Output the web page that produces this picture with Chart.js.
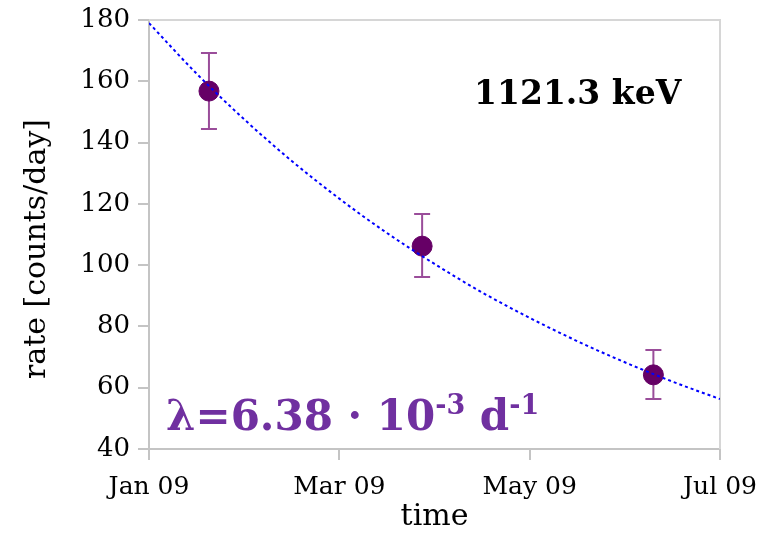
<!DOCTYPE html>
<html lang="en">
  <head>
    <meta charset="UTF-8" />
    <title>1121.3 keV decay</title>
    <script src="https://cdn.jsdelivr.net/npm/chart.js"></script>
    <style>
      html, body { margin: 0; padding: 0; background: #fff; }
      #wrap { width: 763px; height: 535px; }
    </style>
  </head>
  <body>
    <div id="wrap"><canvas id="chartRate" width="763" height="535"></canvas></div>
    <script>
      // measured points (x in months since 1 Jan 2009)
      var pointMonths = [0.63, 2.87, 5.30];
      var pointRates = [156.8, 106.2, 64.2];
      var errLow = [144.4, 96.1, 56.3];
      var errHigh = [169.2, 116.7, 72.3];

      // fitted decay curve
      var fitMonths = [0, 0.5, 1, 1.5, 2, 2.5, 3, 3.5, 4, 4.5, 5, 5.5, 6];
      var fitRates = [179, 162.5, 147.6, 134.0, 121.7, 110.5, 100.4, 91.1, 82.8, 75.2, 68.3, 62.0, 56.3];

      // axis ticks
      var xTickValues = [0, 2, 4, 6];
      var xTickLabels = ['Jan 09', 'Mar 09', 'May 09', 'Jul 09'];

      var serif = "'DejaVu Serif', serif";
      var axisGray = '#c4c4c4';

      // error bars, frame and text labels
      var extras = {
        id: 'extras',
        beforeDatasetsDraw: function (chart) {
          var c = chart.ctx, a = chart.chartArea;
          var xs = chart.scales.x, ys = chart.scales.y;
          c.save();
          c.strokeStyle = '#d6d6d6';
          c.lineWidth = 2;
          c.beginPath();
          c.moveTo(a.left, a.top);
          c.lineTo(a.right, a.top);
          c.lineTo(a.right, a.bottom);
          c.stroke();
          c.strokeStyle = '#9a4d9a';
          c.lineWidth = 2;
          for (var i = 0; i < pointMonths.length; i++) {
            var px = xs.getPixelForValue(pointMonths[i]);
            var y1 = ys.getPixelForValue(errLow[i]);
            var y2 = ys.getPixelForValue(errHigh[i]);
            c.beginPath();
            c.moveTo(px, y1); c.lineTo(px, y2);
            c.moveTo(px - 8, y1); c.lineTo(px + 8, y1);
            c.moveTo(px - 8, y2); c.lineTo(px + 8, y2);
            c.stroke();
          }
          c.restore();
        },
        afterDraw: function (chart) {
          var c = chart.ctx;
          c.save();
          c.textBaseline = 'alphabetic';
          c.textAlign = 'left';
          c.fillStyle = '#000';
          c.font = "bold 33px " + serif;
          c.fillText('1121.3 keV', 474, 104);

          c.fillStyle = '#7030a0';
          var x = 166, base = 430;
          var parts = [['λ=6.38 · 10', 42, 0], ['-3', 27, -16], [' d', 42, 0], ['-1', 27, -16]];
          parts.forEach(function (p) {
            c.font = 'bold ' + p[1] + 'px ' + serif;
            c.fillText(p[0], x, base + p[2]);
            x += c.measureText(p[0]).width;
          });

          // y-axis title
          c.translate(37, 249);
          c.rotate(-Math.PI / 2);
          c.textAlign = 'center';
          c.textBaseline = 'middle';
          c.fillStyle = '#000';
          c.font = '30px ' + serif;
          c.fillText('rate [counts/day]', 0, 0);
          c.restore();
        }
      };

      var ctx = document.getElementById('chartRate').getContext('2d');
      var chartRate = new Chart(ctx, {
        type: 'scatter',
        data: {
          datasets: [
            {
              label: 'fit',
              type: 'line',
              data: fitMonths.map(function (m, i) { return { x: m, y: fitRates[i] }; }),
              borderColor: '#0000ff',
              borderWidth: 2,
              borderDash: [3, 3],
              pointRadius: 0,
              tension: 0.4,
              cubicInterpolationMode: 'monotone',
              fill: false
            },
            {
              label: 'rate',
              data: pointMonths.map(function (m, i) { return { x: m, y: pointRates[i] }; }),
              backgroundColor: '#660066',
              borderColor: '#660066',
              pointRadius: 10,
              pointHoverRadius: 10
            }
          ]
        },
        options: {
          responsive: false,
          animation: false,
          layout: { padding: { left: 0, right: 43, top: 20, bottom: 0 } },
          plugins: { legend: { display: false }, tooltip: { enabled: false } },
          scales: {
            x: {
              type: 'linear',
              min: 0,
              max: 6,
              afterBuildTicks: function (s) {
                s.ticks = xTickValues.map(function (v) { return { value: v }; });
              },
              afterFit: function (s) {
                s.height = 86;
                s.paddingLeft = 0;
                s.paddingRight = 0;
              },
              ticks: {
                color: '#000',
                font: { family: serif, size: 25 },
                padding: 12,
                maxRotation: 0,
                callback: function (v) { return xTickLabels[xTickValues.indexOf(v)]; }
              },
              grid: { drawOnChartArea: false, color: axisGray, tickLength: 11, lineWidth: 2 },
              border: { color: axisGray, width: 2 },
              title: {
                display: true,
                text: 'time',
                color: '#000',
                font: { family: serif, size: 30 },
                padding: { top: 0, bottom: 0 }
              }
            },
            y: {
              min: 40,
              max: 180,
              afterFit: function (s) {
                s.width = 149;
                s.paddingTop = 0;
                s.paddingBottom = 0;
              },
              ticks: {
                stepSize: 20,
                color: '#000',
                font: { family: serif, size: 26 },
                padding: 8
              },
              grid: { drawOnChartArea: false, color: axisGray, tickLength: 11, lineWidth: 2 },
              border: { color: axisGray, width: 2 }
            }
          }
        },
        plugins: [extras]
      });
    </script>
  </body>
</html>
